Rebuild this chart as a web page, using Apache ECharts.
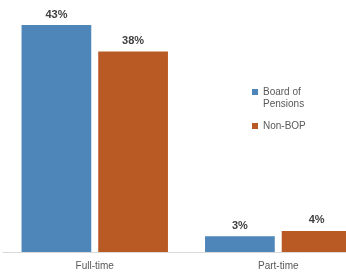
<!DOCTYPE html>
<html>
<head>
<meta charset="utf-8">
<script src="https://cdn.jsdelivr.net/npm/echarts@6/dist/echarts.min.js"></script>
<style>
  html, body { margin: 0; padding: 0; background: #fff; }
  #chart { width: 346px; height: 274px; }
</style>
</head>
<body>
<div id="chart"></div>
<script>
// 数据
var categories = ['Full-time', 'Part-time'];
var bopValues = [43, 3];
var nonBopValues = [38, 4];
var seriesNames = ['Board of Pensions', 'Non-BOP'];

var blue = '#4f86b9';
var orange = '#b95a24';
var font = 'Liberation Sans, Arial, sans-serif';

var label = {
    show: true,
    position: 'top',
    distance: 5,
    formatter: '{c}%',
    color: '#404040',
    fontSize: 11,
    fontWeight: 'bold',
    fontFamily: font
};

var option = {
    animation: false,
    grid: { left: 3, width: 367, top: 25, bottom: 22, outerBoundsMode: 'none' },
    legend: {
        orient: 'vertical',
        left: 252,
        top: 74,
        padding: 0,
        itemWidth: 6,
        itemHeight: 6,
        itemGap: 10,
        icon: 'rect',
        textStyle: { color: '#595959', fontSize: 10, fontFamily: font, lineHeight: 12 },
        data: seriesNames,
        formatter: function (name) {
            // 第一行留空，让图标对齐 "Board of"
            return name === 'Board of Pensions' ? ' \nBoard of\nPensions' : name;
        }
    },
    xAxis: {
        type: 'category',
        data: categories,
        axisLine: { lineStyle: { color: '#d9d9d9' } },
        axisTick: { show: false },
        axisLabel: { color: '#595959', fontSize: 10, fontFamily: font, margin: 9 }
    },
    yAxis: {
        type: 'value',
        min: 0,
        max: 43,
        show: false
    },
    series: [{
        name: seriesNames[0],
        type: 'bar',
        data: bopValues,
        barWidth: '38%',
        barGap: '10%',
        itemStyle: { color: blue },
        label: label
    }, {
        name: seriesNames[1],
        type: 'bar',
        data: nonBopValues,
        barWidth: '38%',
        itemStyle: { color: orange },
        label: label
    }]
};

var et = echarts.init(document.getElementById('chart'));
et.setOption(option);
</script>
</body>
</html>
